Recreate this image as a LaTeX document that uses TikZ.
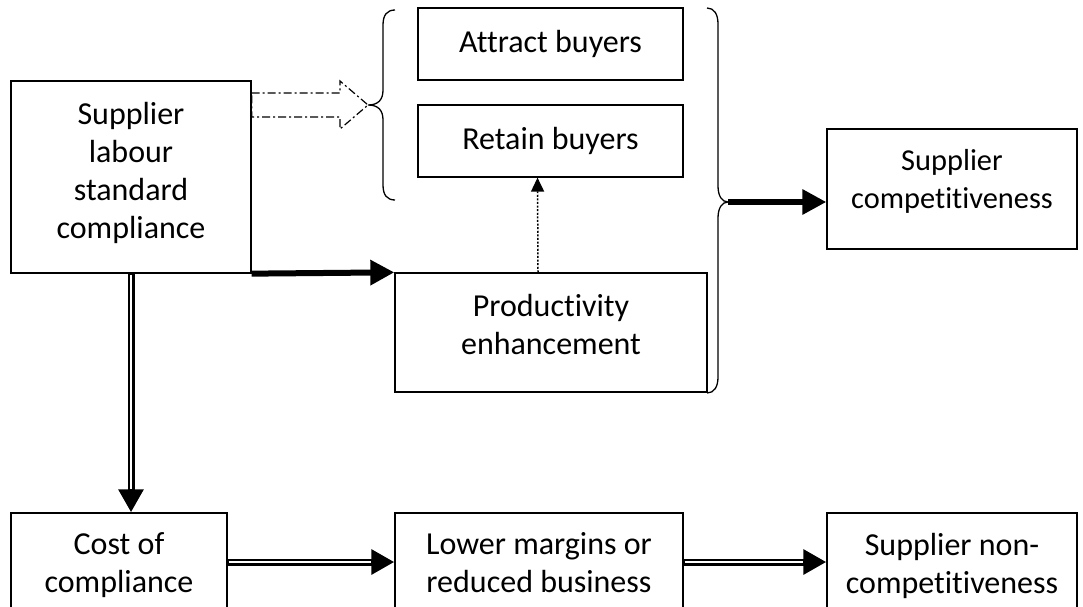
\documentclass[tikz,border=0pt]{standalone}
\usepackage{fontspec}
\setmainfont[Ligatures=NoCommon]{Carlito}
\usetikzlibrary{arrows.meta}
% extra depth under the last line, to lift the text in its box
\newcommand{\lift}[1]{\rule[-#1]{0pt}{#1}}

\begin{document}
\begin{tikzpicture}[x=1pt,y=-1pt]
		\tikzstyle{every node}=[font=\fontsize{32}{38}\selectfont]
		\tikzstyle{box}=[draw,line width=1.3pt,align=center,inner sep=0pt]
		\tikzstyle{heavy}=[line width=6pt,-{Triangle[length=24pt,width=24pt]}]
		\tikzstyle{twin}=[line width=7pt,-{Triangle[length=23pt,width=24pt]},postaction={draw,white,line width=2.5pt,-,shorten >=23pt,shorten <=1pt}]
		\tikzstyle{dots}=[line width=1.5pt,dash pattern=on 2pt off 1.6pt,-{Triangle[length=14pt,width=13pt]}]
		\tikzstyle{dashdot}=[line width=1.2pt,dash pattern=on 8pt off 3pt on 2pt off 3pt]
		\tikzstyle{curly}=[line width=1.3pt]

		\useasboundingbox (0,0) rectangle (1083,607);

		\node (comply) at (131,177) [box,minimum width=240pt,minimum height=192pt] {Supplier\\labour\\standard\\compliance\lift{13pt}};
		\node (attract) at (550.5,44) [box,minimum width=265pt,minimum height=72pt] {Attract buyers};
		\node (retain) at (550.5,141) [box,minimum width=265pt,minimum height=72pt] {Retain buyers};
		\node (prod) at (551,332.5) [box,minimum width=312pt,minimum height=119pt] {Productivity\\enhancement\lift{17pt}};
		\node (compet) at (952,189) [box,minimum width=250pt,minimum height=120pt,font=\fontsize{30.4}{38}\selectfont] {Supplier\\competitiveness\lift{20pt}};
		\node (cost) at (119,565.5) [box,minimum width=216pt,minimum height=105pt] {Cost of\\compliance};
		\node (margins) at (539,563) [box,minimum width=288pt,minimum height=100pt] {Lower margins or\\reduced business};
		\node (noncomp) at (952,566) [box,minimum width=250pt,minimum height=106pt] {Supplier non-\\competitiveness};

		\coordinate (ltip) at (368,105);
		\coordinate (rtip) at (728,202);

		% braces
		\draw [curly] (395,10) .. controls (387,10) and (383,15) .. (383,25) -- (383,90) .. controls (383,100) and (378,105) .. (ltip) .. controls (378,105) and (383,110) .. (383,120) -- (383,185) .. controls (383,195) and (387,200) .. (395,200);
		\draw [curly] (707,8) .. controls (714,8) and (718,14) .. (718,24) -- (718,186) .. controls (718,196) and (722,202) .. (rtip) .. controls (722,202) and (718,208) .. (718,218) -- (718,377) .. controls (718,387) and (714,393) .. (707,393);

		\draw [dashdot] (comply.east |- 0,93) -- (340,93) -- (340,81) -- (ltip) -- (340,129) -- (340,117) -- (comply.east |- 0,117) -- cycle;

		\path [heavy] (comply.south east) edge (prod.north west);
		\path [heavy] (rtip) edge (rtip -| compet.west);
		\path [dots] ([xshift=-13pt]prod.north) edge ([xshift=-13pt]retain.south);

		\draw [twin] (comply.south) -- (comply.south |- cost.north);
		\draw [twin] (cost.east |- 0,562) -- (margins.west |- 0,562);
		\draw [twin] (margins.east |- 0,562) -- (noncomp.west |- 0,562);
	\end{tikzpicture}
\end{document}
